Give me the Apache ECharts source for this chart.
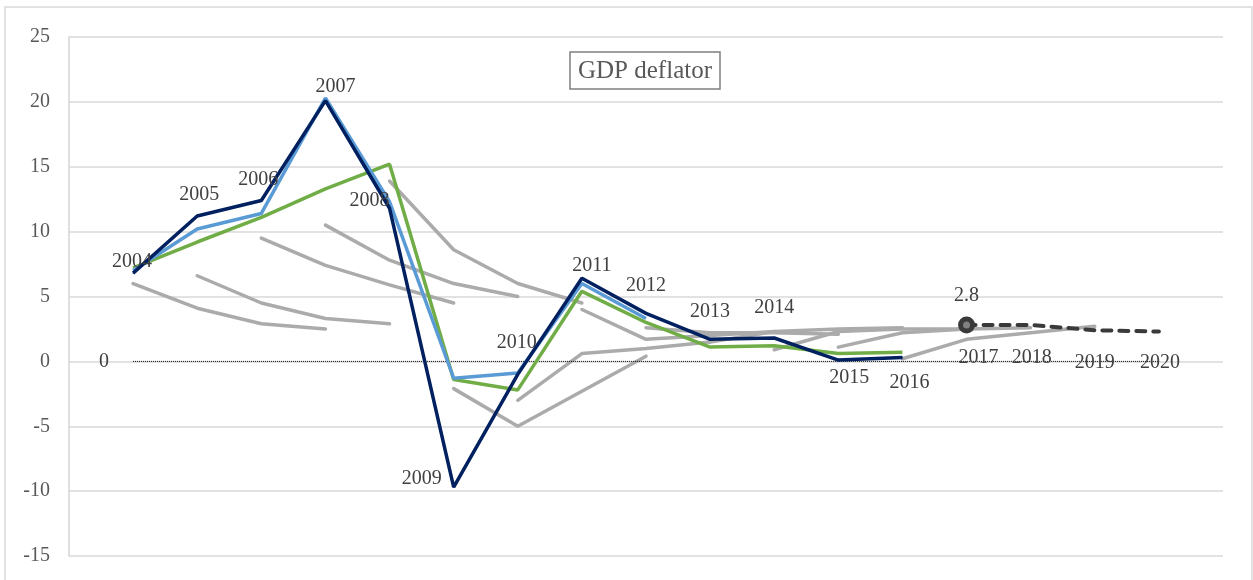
<!DOCTYPE html>
<html>
<head>
<meta charset="utf-8">
<title>GDP deflator</title>
<script src="https://cdn.jsdelivr.net/npm/echarts@6/dist/echarts.min.js"></script>
<style>
  html, body { margin: 0; padding: 0; background: #ffffff; }
  #chart { width: 1253px; height: 580px; }
</style>
</head>
<body>
<div id="chart"></div>
<script>
// Category axis: one blank slot at each end so 2004 and 2020 sit one step in from the frame
const categories = ['', '2004', '2005', '2006', '2007', '2008', '2009', '2010', '2011', '2012',
  '2013', '2014', '2015', '2016', '2017', '2018', '2019', '2020', ''];

// Outturn and successive estimates (% y/y)
const outturn  = [null, 6.8, 11.2, 12.4, 20.1, 11.8, -9.7, -1.0, 6.4, 3.7, 1.7, 1.8, 0.1, 0.3, null, null, null, null, null];
const estimateA = [null, 7.0, 10.2, 11.4, 20.3, 12.3, -1.3, -0.9, 6.0, 3.3, null, null, null, null, null, null, null, null, null];
const estimateB = [null, 7.2, 9.2, 11.1, 13.3, 15.2, -1.4, -2.2, 5.4, 3.0, 1.1, 1.2, 0.6, 0.7, null, null, null, null, null];

// Latest forecast path, 2017-2020
const forecast = [null, null, null, null, null, null, null, null, null, null, null, null, null, null, 2.8, 2.8, 2.4, 2.3, null];

// Zero reference line, 2004-2020
const zeroLine = [null, 0, 0, 0, 0, 0, 0, 0, 0, 0, 0, 0, 0, 0, 0, 0, 0, 0, null];

// Earlier forecast vintages: first year and the four-year path
const vintageStarts = ['2004', '2005', '2006', '2007', '2008', '2009', '2010', '2011', '2012', '2013', '2014', '2015', '2016'];
const v2004 = [6.0, 4.1, 2.9, 2.5];
const v2005 = [6.6, 4.5, 3.3, 2.9];
const v2006 = [9.5, 7.4, 5.9, 4.5];
const v2007 = [10.5, 7.8, 6.0, 5.0];
const v2008 = [13.9, 8.6, 6.0, 4.5];
const v2009 = [-2.1, -5.0, -2.3, 0.4];
const v2010 = [-3.0, 0.6, 1.0, 1.5];
const v2011 = [4.0, 1.7, 2.0, 2.3];
const v2012 = [2.6, 2.2, 2.2, 2.1];
const v2013 = [1.5, 2.3, 2.5, 2.6];
const v2014 = [0.9, 2.3, 2.5, 2.5];
const v2015 = [1.1, 2.2, 2.5, 2.6];
const v2016 = [0.2, 1.7, 2.2, 2.7];
const vintages = [v2004, v2005, v2006, v2007, v2008, v2009, v2010, v2011, v2012, v2013, v2014, v2015, v2016];

const yTicks = { min: -15, max: 25, step: 5 };

// ---- styling ----
const SERIF = "'Liberation Serif', 'Times New Roman', serif";
const LABEL_COLOR = '#404040';
const GREY = '#ababab';

// year-label placement around the outturn points (dx, dy from the point)
const outturnLabelOffsets = {
  '2004': [-1, -11], '2005': [2, -21], '2006': [-3, -21], '2007': [10, -14],
  '2008': [-20, -8], '2009': [-32, -8], '2010': [-1, -32], '2011': [10, -13],
  '2012': [0, -28], '2013': [0, -28], '2014': [0, -30], '2015': [11, 18], '2016': [7, 25]
};
// labels hung on the zero line
const zeroLabelOffsets = {
  '2004': [-29, 0], '2017': [12, -4], '2018': [1, -4], '2019': [0, 1], '2020': [1, 1]
};

function pointLabel(text, offset) {
  return {
    show: true, position: 'inside', offset: offset, formatter: text,
    color: LABEL_COLOR, fontFamily: SERIF, fontSize: 20,
    textBorderWidth: 0
  };
}

function padVintage(start, values) {
  const out = categories.map(() => null);
  const i0 = categories.indexOf(start);
  values.forEach((v, k) => { out[i0 + k] = v; });
  return out;
}

const greySeries = vintages.map((vals, i) => ({
  name: 'vintage ' + vintageStarts[i],
  type: 'line',
  data: padVintage(vintageStarts[i], vals),
  symbol: 'none',
  lineStyle: { color: GREY, width: 3.5, cap: 'round' },
  z: 2,
  silent: true
}));

const outturnData = outturn.map((v, i) => {
  const yr = categories[i];
  if (v === null) return null;
  const off = outturnLabelOffsets[yr];
  return off ? { value: v, label: pointLabel(yr, off) } : v;
});

const zeroData = zeroLine.map((v, i) => {
  const yr = categories[i];
  if (v === null) return null;
  const off = zeroLabelOffsets[yr];
  if (!off) return v;
  return { value: v, label: pointLabel(yr === '2004' ? String(v) : yr, off) };
});

const firstForecast = forecast.findIndex(v => v !== null);
const forecastData = forecast.map((v, i) => {
  if (v === null) return null;
  if (i !== firstForecast) return v;
  return {
    value: v,
    symbol: 'circle',
    symbolSize: 12,
    itemStyle: { color: '#808080', borderColor: '#3a3a3a', borderWidth: 5 },
    label: pointLabel(v.toFixed(1), [0, -29])
  };
});

const chart = echarts.init(document.getElementById('chart'), null, { renderer: 'canvas' });

chart.setOption({
  animation: false,
  backgroundColor: '#ffffff',
  textStyle: { fontFamily: SERIF },
  title: {
    text: 'GDP deflator',
    left: 570, top: 52,
    padding: [5, 8, 4, 8],
    borderColor: '#7f7f7f', borderWidth: 1.5,
    textStyle: { fontFamily: SERIF, fontSize: 25, fontWeight: 'normal', color: '#595959', lineHeight: 28 }
  },
  graphic: [{
    type: 'rect', silent: true, z: -10,
    shape: { x: 5, y: 7, width: 1247, height: 600 },
    style: { fill: 'none', stroke: '#d9d9d9', lineWidth: 1.5 }
  }],
  grid: { left: 69, right: 30, top: 37, bottom: 24, containLabel: false, outerBoundsMode: 'none' },
  xAxis: {
    type: 'category',
    data: categories,
    boundaryGap: false,
    axisLine: { show: false },
    axisTick: { show: false },
    axisLabel: { show: false },
    splitLine: { show: false }
  },
  yAxis: {
    type: 'value',
    min: yTicks.min, max: yTicks.max, interval: yTicks.step,
    axisLine: { show: true, lineStyle: { color: '#d4d4d4', width: 1.5 } },
    axisTick: { show: false },
    axisLabel: { color: '#595959', fontFamily: SERIF, fontSize: 20, margin: 19 },
    splitLine: { show: true, lineStyle: { color: '#d9d9d9', width: 1.5 } }
  },
  series: [
    ...greySeries,
    {
      name: 'zero',
      type: 'line',
      data: zeroData,
      symbol: 'circle', symbolSize: 0.5,
      itemStyle: { color: '#000000' },
      lineStyle: { color: '#000000', width: 1, type: 'dotted' },
      z: 3, silent: true
    },
    {
      name: 'estimate B',
      type: 'line',
      data: estimateB,
      symbol: 'none',
      lineStyle: { color: '#70ad47', width: 3.5 },
      z: 4, silent: true
    },
    {
      name: 'estimate A',
      type: 'line',
      data: estimateA,
      symbol: 'none',
      lineStyle: { color: '#5b9bd5', width: 3.5 },
      z: 5, silent: true
    },
    {
      name: 'outturn',
      type: 'line',
      data: outturnData,
      symbol: 'circle', symbolSize: 1,
      itemStyle: { color: '#002060' },
      lineStyle: { color: '#002060', width: 3.5 },
      z: 6, silent: true
    },
    {
      name: 'forecast',
      type: 'line',
      data: forecastData,
      symbol: 'none',
      lineStyle: { color: '#3a3a3a', width: 4, type: [9, 8], cap: 'round' },
      z: 7, silent: true
    }
  ]
});
</script>
</body>
</html>
